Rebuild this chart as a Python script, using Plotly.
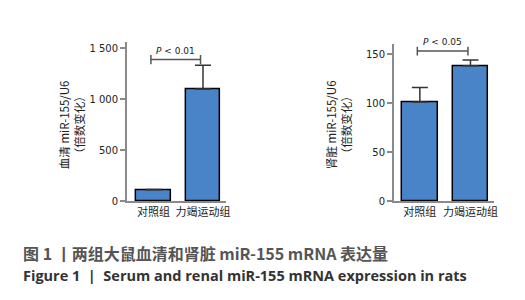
import plotly.graph_objects as go

categories = ["对照组", "力竭运动组"]
serum_values = [110, 1100]
serum_err = [4, 235]
renal_values = [101, 138]
renal_err = [15, 6]
serum_sig = {"y": 1390, "label": "<i>P</i> < 0.01"}
renal_sig = {"y": 153, "label": "<i>P</i> < 0.05"}
serum_ticks = [0, 500, 1000, 1500]
serum_ticktext = ["0", "500", "1 000", "1 500"]
renal_ticks = [0, 50, 100, 150]
renal_ticktext = ["0", "50", "100", "150"]

BAR = "#4a84c8"
AX = "#8a8a8a"
NUM_FONT = "DejaVu Sans"
CJK = "Noto Sans CJK SC"

fig = go.Figure()
xs = list(range(len(categories)))

def add_bars(vals, errs, xa, ya):
    fig.add_trace(go.Bar(
        x=xs, y=vals, width=0.7, xaxis=xa, yaxis=ya,
        marker=dict(color=BAR, line=dict(color="black", width=1.5)),
        error_y=dict(type="data", symmetric=False, array=errs,
                     arrayminus=[0]*len(errs), color="#333", thickness=1.5, width=8),
        showlegend=False, hoverinfo="skip"))

add_bars(serum_values, serum_err, "x", "y")
add_bars(renal_values, renal_err, "x2", "y2")

def sig_bracket(xref, yref, y, label, h):
    x0, x1 = -0.05, 0.95
    line = dict(color="#555", width=1.5)
    fig.add_shape(type="line", xref=xref, yref=yref, x0=x0, x1=x1, y0=y, y1=y, line=line)
    fig.add_shape(type="line", xref=xref, yref=yref, x0=x0, x1=x0, y0=y - h, y1=y + h, line=line)
    fig.add_shape(type="line", xref=xref, yref=yref, x0=x1, x1=x1, y0=y - h, y1=y + h, line=line)
    fig.add_annotation(xref=xref, yref=yref, x=(x0 + x1) / 2, y=y, text=label,
                       showarrow=False, yanchor="bottom", yshift=2,
                       font=dict(family=NUM_FONT, size=9, color="#222"))

sig_bracket("x", "y", serum_sig["y"], serum_sig["label"], 45)
sig_bracket("x2", "y2", renal_sig["y"], renal_sig["label"], 4.5)

axis_common = dict(showgrid=False, zeroline=False, showline=True, linecolor=AX, linewidth=2)
xt = dict(tickmode="array", tickvals=xs, ticktext=categories, ticks="",
          tickfont=dict(family=CJK, size=11, color="#222"))
yt = dict(ticks="outside", ticklen=5, tickcolor=AX, tickwidth=1.5,
          tickfont=dict(family=NUM_FONT, size=10, color="#222"))

fig.update_layout(
    width=525, height=300, margin=dict(l=0, r=0, t=0, b=0),
    plot_bgcolor="white", paper_bgcolor="white",
    xaxis=dict(domain=[120/525, 220/525], range=[-0.53, 1.47], anchor="y", **axis_common, **xt),
    yaxis=dict(domain=[1-197/300, 1-35/300], range=[0, 1560], anchor="x",
               tickvals=serum_ticks, ticktext=serum_ticktext, **axis_common, **yt),
    xaxis2=dict(domain=[389/525, 490/525], range=[-0.51, 1.47], anchor="y2", **axis_common, **xt),
    yaxis2=dict(domain=[1-197/300, 1-37/300], range=[0, 160], anchor="x2",
                tickvals=renal_ticks, ticktext=renal_ticktext, **axis_common, **yt),
    bargap=0,
)

for x, txt in [(64/525, "血清 miR-155/U6<br>（倍数变化）"), (333/525, "肾脏 miR-155/U6<br>（倍数变化）")]:
    fig.add_annotation(xref="paper", yref="paper", x=x, y=1-119/300, text=txt,
                       textangle=-90, showarrow=False, xanchor="center", yanchor="middle",
                       font=dict(family=CJK, size=11.5, color="#222"))

fig.add_annotation(xref="paper", yref="paper", x=13/525, y=1-250/300,
                   text="<b>图 1 丨两组大鼠血清和肾脏 miR-155 mRNA 表达量</b>",
                   showarrow=False, xanchor="left", yanchor="middle",
                   font=dict(family=CJK, size=16, color="#555"))
fig.add_annotation(xref="paper", yref="paper", x=13/525, y=1-273/300,
                   text="<b>Figure 1  |  Serum and renal miR-155 mRNA expression in rats</b>",
                   showarrow=False, xanchor="left", yanchor="middle",
                   font=dict(family="Open Sans", size=14.5, color="#333"))

fig.write_html("out.html")
